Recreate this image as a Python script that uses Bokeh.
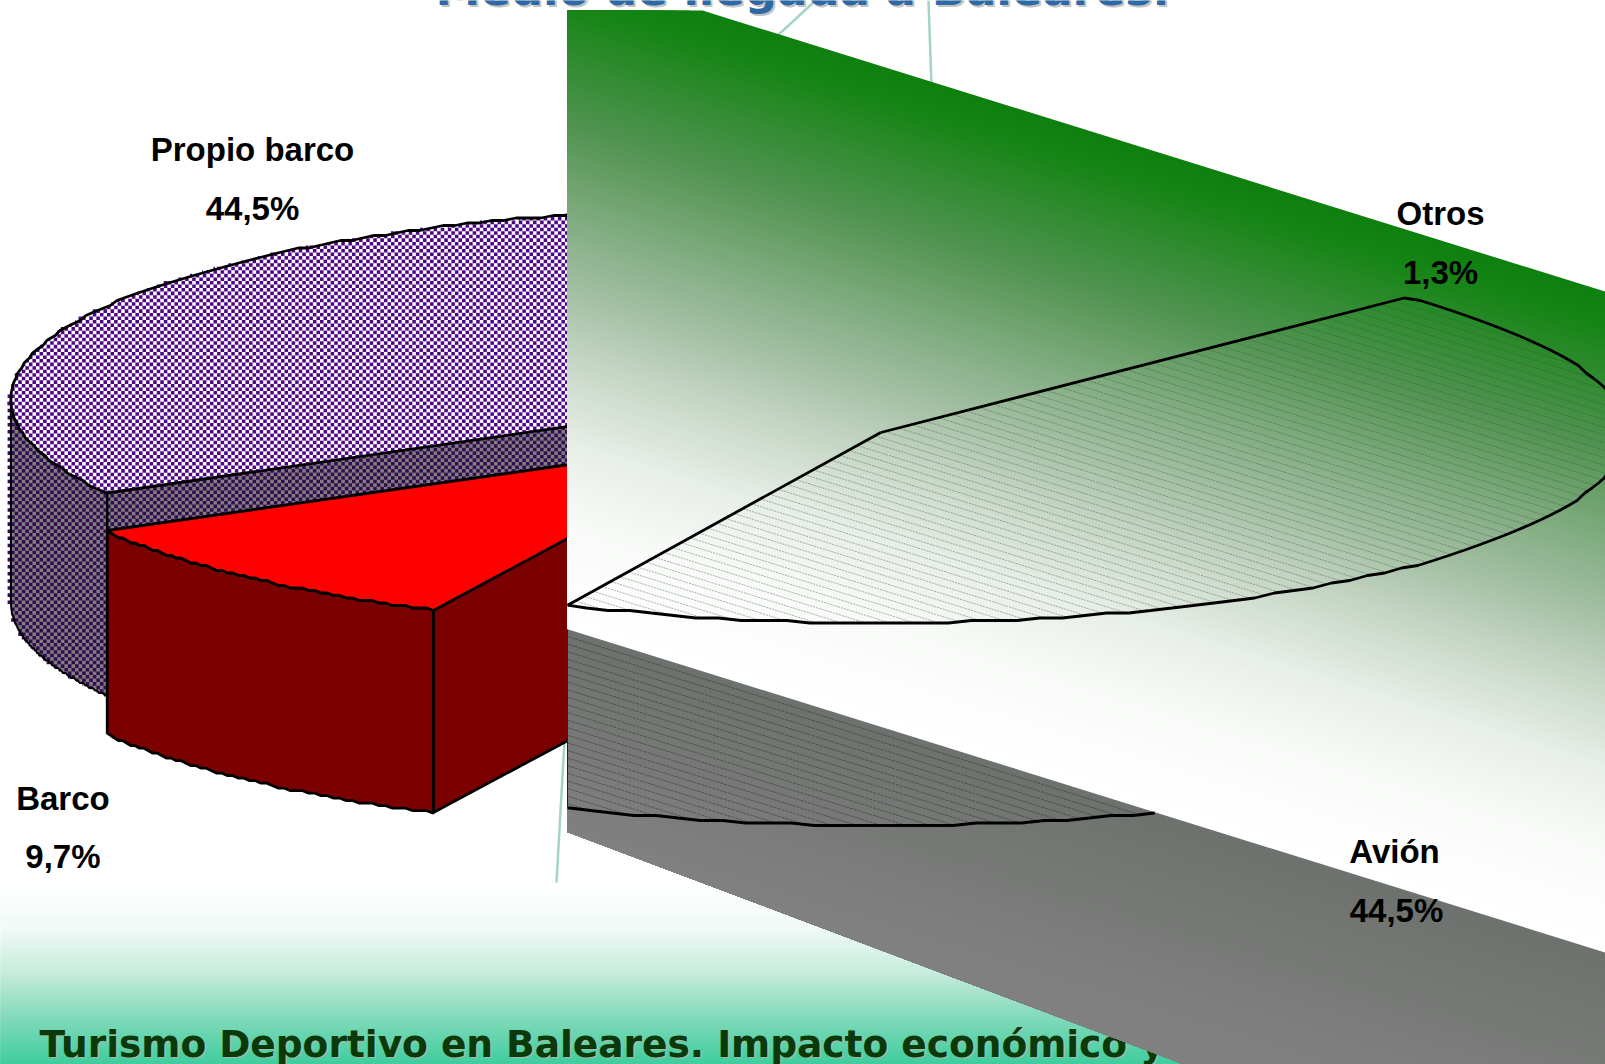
import numpy as np
from bokeh.plotting import figure
from bokeh.models import Range1d
from bokeh.core.properties import value
from bokeh.embed import file_html
from bokeh.resources import INLINE

# ---- data -------------------------------------------------------------
names = ["Barco", "Propio barco", "Otros", "Avión"]
shares = [9.7, 44.5, 1.3, 44.5]
share_labels = ["9,7%", "44,5%", "1,3%", "44,5%"]
title_text = "Medio de llegada a Baleares:"
footer_text = "Turismo Deportivo en Baleares. Impacto económico y"

# ---- pie geometry (page pixels) -----------------------------------------
W, H = 1605, 1064
A, B = 744.0, 190.4
DEPTH = 202.7
START = 115.6
PANEL_ROT = -0.7
edges = START + np.concatenate([[0], np.cumsum(shares)]) * 3.6
BARCO = (edges[0], edges[1])
PROPIO = (edges[1], edges[2])
AVION = (edges[3] + PANEL_ROT, edges[4] + PANEL_ROT)
C_BARCO = (754.4, 437.5)
C_PROPIO = (754.4, 399.0)
C_AVION = (880.3, 432.0)
CUT_X = 567.0
CELL = 3.55


def arc(c, t0, t1, n=90, dy=0.0):
    t = np.radians(np.linspace(t0, t1, n))
    return c[0] + A * np.cos(t), c[1] + B * np.sin(t) + dy


def jag(y, step=2.5):
    return np.round(y / step) * step


def lerp_stops(t, stops):
    ts = [s[0] for s in stops]
    cols = np.array([s[1] for s in stops], dtype=float)
    return [int(round(np.interp(t, ts, cols[:, i]))) for i in range(3)]


def hexc(rgb):
    return "#%02x%02x%02x" % tuple(rgb)


def row_span(px, py, y):
    px, py = np.asarray(px), np.asarray(py)
    qx, qy = np.roll(px, -1), np.roll(py, -1)
    hit = (py - y) * (qy - y) < 0
    if hit.sum() < 2:
        return None
    xs = px[hit] + (y - py[hit]) * (qx[hit] - px[hit]) / (qy[hit] - py[hit])
    return xs.min(), xs.max()


p = figure(width=W, height=H, output_backend="svg", toolbar_location=None,
           x_range=Range1d(0, W), y_range=Range1d(H, 0), min_border=0,
           margin=(0, 0, 0, 0), outline_line_color=None,
           background_fill_color="white", border_fill_color="white")
p.axis.visible = False
p.grid.visible = False


def checker(px, py, color):
    """Checkerboard cells clipped to a polygon."""
    ymin, ymax = float(np.min(py)), float(np.max(py))
    lft, rgt, top, bot = [], [], [], []
    for k in range(int(ymin // CELL), int(ymax // CELL) + 1):
        y = (k + 0.5) * CELL
        span = row_span(px, py, y)
        if span is None:
            continue
        pitch = 2 * CELL
        phase = (k % 2) * CELL
        x = np.floor((span[0] - phase) / pitch) * pitch + phase
        end = min(span[1], CUT_X)
        while x < end:
            lft.append(max(x, span[0]))
            rgt.append(min(x + CELL, end))
            top.append(k * CELL)
            bot.append((k + 1) * CELL)
            x += pitch
    p.quad(left=lft, right=rgt, top=top, bottom=bot, fill_color=color, line_color=None)


# ---- footer gradient -----------------------------------------------------
foot = [(0, (255, 255, 255)), (.25, (240, 250, 246)), (.5, (196, 235, 219)),
        (.75, (125, 217, 184)), (1, (60, 204, 157))]
ys = np.arange(880, H, 4.0)
for y in ys:
    p.quad(left=0, right=W, top=y, bottom=H,
           fill_color=hexc(lerp_stops((y - 880) / (H - 880), foot)), line_color=None)

# decorative thin lines behind the panel
for xs_, ys_ in [((815, 775), (0, 37)), ((928, 931), (0, 85)), ((564, 556), (740, 882))]:
    p.line(list(xs_), list(ys_), line_color="#8fcbb0", line_width=2.5, line_alpha=.8)

# ---- titles --------------------------------------------------------------
TF = dict(text_font=value("DejaVu Sans"), text_font_style="bold", text_align="left", text_baseline="middle")
p.text([437], [-9.5], text=[title_text], text_font_size="45px", text_color="#c4c4c4", **TF)
p.text([435], [-11.5], text=[title_text], text_font_size="45px", text_color="#2e69a6", **TF)
p.text([40], [1044], text=[footer_text], text_font_size="37.5px", text_color="#a8b8a8", **TF)
p.text([39], [1043], text=[footer_text], text_font_size="37.5px", text_color="#0a3a0a", **TF)

# ---- left part of the pie ------------------------------------------------
OUT = dict(line_color="black", line_width=2.8)
WALL_DARK = "#330b50"
TOP_PURPLE = "#4f0586"

# Propio barco: outer wall and cut face
x0, y0 = arc(C_PROPIO, PROPIO[0], 180)
xb, yb = x0[::-1], y0[::-1] + DEPTH
wall_x, wall_y = np.r_[x0, xb], np.r_[y0, yb]
p.patch(wall_x, wall_y, fill_color="#7f7f7f", line_color=None)
checker(wall_x, wall_y, WALL_DARK)
p.line(xb, jag(yb), line_color="black", line_width=2)
p.line([x0[-1], x0[-1]], [y0[-1], y0[-1] + DEPTH], line_color="black", line_width=2)

cx0, cy0 = arc(C_PROPIO, PROPIO[0], PROPIO[0], 1)
cut_x = [cx0[0], C_PROPIO[0], C_PROPIO[0], cx0[0]]
cut_y = [cy0[0], C_PROPIO[1], C_PROPIO[1] + DEPTH, cy0[0] + DEPTH]
p.patch(cut_x, cut_y, fill_color="#7f7f7f", line_color=None)
checker(cut_x, cut_y, WALL_DARK)

# Propio barco: top face
xt, yt = arc(C_PROPIO, *PROPIO, n=160)
top_x, top_y = np.r_[C_PROPIO[0], xt], np.r_[C_PROPIO[1], yt]
p.patch(top_x, top_y, fill_color="white", line_color=None)
checker(top_x, top_y, TOP_PURPLE)
p.line(np.r_[C_PROPIO[0], xt, C_PROPIO[0]], np.r_[C_PROPIO[1], jag(yt), C_PROPIO[1]], **OUT)
p.line([cx0[0], cx0[0]], [cy0[0], cy0[0] + 45], line_color="black", line_width=2.4)

# Barco: walls and top
xr, yr = arc(C_BARCO, *BARCO, n=60)
p.patch(np.r_[xr, xr[::-1]], np.r_[jag(yr), jag(yr)[::-1] + DEPTH], fill_color="#7b0000", **OUT)
p.patch([xr[0], C_BARCO[0], C_BARCO[0], xr[0]], [yr[0], C_BARCO[1], C_BARCO[1] + DEPTH, yr[0] + DEPTH],
        fill_color="#7b0000", **OUT)
p.patch(np.r_[C_BARCO[0], xr], np.r_[C_BARCO[1], jag(yr)], fill_color="#ff0000", **OUT)

# ---- right panel: tilted gradient sheet -----------------------------------
SLOPE = 0.3114
TOP0, BOT0 = 10 + SLOPE * (CUT_X - 702), 628.8
right = W + 30
green = [(0, (14, 128, 14)), (.053, (22, 133, 22)), (.235, (80, 147, 80)), (.356, (122, 168, 122)),
         (.478, (160, 190, 160)), (.6, (200, 216, 200)), (.72, (232, 238, 232)),
         (.84, (248, 250, 248)), (1, (255, 255, 255))]
n = 160
for i in range(n):
    t = i / n
    yl = TOP0 + t * (BOT0 - TOP0)
    yr_ = yl + SLOPE * (right - CUT_X)
    ylb = BOT0
    yrb = BOT0 + SLOPE * (right - CUT_X)
    if yl < 10:
        xc = CUT_X + (10 - yl) / SLOPE
        px = [CUT_X, xc, right, right, CUT_X]
        py = [10, 10, yr_, yrb, ylb]
    else:
        px = [CUT_X, right, right, CUT_X]
        py = [yl, yr_, yrb, ylb]
    p.patch(px, py, fill_color=hexc(lerp_stops(t + 0.5 / n, green)), line_color=None)

# grey side band
band_x_end = CUT_X + (H + 30 - 831.4) / 0.377
grey = [(0, (110, 114, 110)), (1, (128, 128, 128))]
m = 40
LOWS = 831.4
for i in range(m):
    t = i / m
    yl = BOT0 + t * (LOWS - BOT0)
    p.patch([CUT_X, right, right, band_x_end, CUT_X],
            [yl, yl + SLOPE * (right - CUT_X), H + 30, H + 30, LOWS],
            fill_color=hexc(lerp_stops(t, grey)), line_color=None)


def band_top(x):
    return BOT0 + SLOPE * (x - CUT_X)


# hatch of the Avión slice and of its side wall
samples = np.arange(CUT_X, W + 1, 1.0)
hx, hy, wx, wy = [], [], [], []
for y_start in np.arange(-200, 1000, 7.6):
    ly = y_start + SLOPE * (samples - CUT_X)
    u = (samples - C_AVION[0]) / A
    v = (ly - C_AVION[1]) / B
    ang = np.degrees(np.arctan2(v, u))
    inside = (u * u + v * v <= 1) & (ang >= AVION[0] - 360) & (ang <= AVION[1] - 360) & (ly < band_top(samples))
    if inside.any():
        idx = np.where(inside)[0]
        hx.append([samples[idx[0]], samples[idx[-1]]])
        hy.append([ly[idx[0]], ly[idx[-1]]])
    low_arc = C_AVION[1] + DEPTH + B * np.sqrt(np.clip(1 - u * u, 0, 1))
    wall = (ly < low_arc) & (ly > band_top(samples))
    if wall.any():
        idx = np.where(wall)[0]
        wx.append([samples[idx[0]], samples[idx[-1]]])
        wy.append([ly[idx[0]], ly[idx[-1]]])
p.multi_line(hx, hy, line_color="#3a4a3a", line_alpha=.42, line_width=1, line_dash="2 1")
p.multi_line(wx, wy, line_color="#2a2a2a", line_alpha=.5, line_width=1, line_dash="3 1")

# Avión outline
xa, ya = arc(C_AVION, *AVION, n=900)
vis = xa >= CUT_X
xa, ya = xa[vis], ya[vis]
xs10, ys10 = np.r_[xa[::10], xa[-1]], np.r_[jag(ya)[::10], ya[-1]]
p.line(np.r_[C_AVION[0], xs10], np.r_[C_AVION[1], ys10], line_color="black", line_width=2.8)
p.line([C_AVION[0], xa[-1]], [C_AVION[1], ya[-1]], line_color="black", line_width=2.8)
low = ya + DEPTH > band_top(xa)
xl, yl_ = xa[low], (ya + DEPTH)[low]
p.line(np.r_[xl[::10], xl[-1]], np.r_[jag(yl_)[::10], yl_[-1]], line_color="black", line_width=2.8)
p.line([CUT_X, CUT_X], [BOT0, ya[-1] + DEPTH], line_color="#222222", line_width=1)

# ---- slice labels ----------------------------------------------------------
name_pos = [(62.4, 798), (252, 149.4), (1440, 213), (1394, 851)]
pct_pos = [(62.4, 856), (252, 208), (1440, 272), (1396, 910)]
LB = dict(text_font=value("Liberation Sans"), text_font_style="bold", text_font_size="33px",
          text_color="black", text_align="center", text_baseline="middle")
for nm, pc, (nx, ny), (vx, vy) in zip(names, share_labels, name_pos, pct_pos):
    p.text([nx], [ny], text=[nm], **LB)
    p.text([vx], [vy], text=[pc], **LB)

open("out.html", "w").write(file_html(p, INLINE))
